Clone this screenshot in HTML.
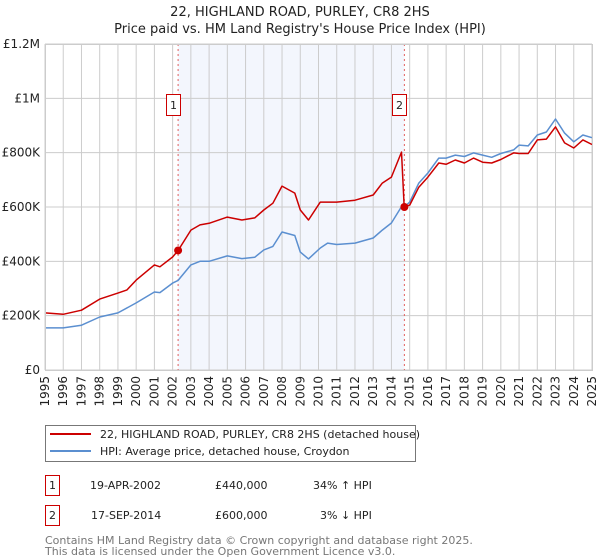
<!DOCTYPE html>
<html><head><meta charset="utf-8"><style>
body{margin:0;background:#fff;width:600px;height:560px;overflow:hidden;font-family:"DejaVu Sans","Liberation Sans",sans-serif}
svg{display:block}
</style></head><body>
<svg id="chart" width="600" height="560" xmlns="http://www.w3.org/2000/svg" font-family="DejaVu Sans, Liberation Sans, sans-serif">
<text x="300" y="16" font-size="13" text-anchor="middle" fill="#222">22, HIGHLAND ROAD, PURLEY, CR8 2HS</text>
<text x="300" y="33" font-size="13" text-anchor="middle" fill="#222">Price paid vs. HM Land Registry's House Price Index (HPI)</text>
<g id="plot"></g>
<g>
<rect x="45.5" y="425.5" width="370" height="36" fill="#fff" stroke="#777"/>
<line x1="50" y1="434" x2="91" y2="434" stroke="#cc0000" stroke-width="2"/>
<text x="100" y="438" font-size="11" fill="#222">22, HIGHLAND ROAD, PURLEY, CR8 2HS (detached house)</text>
<line x1="50" y1="451" x2="91" y2="451" stroke="#5b8fd0" stroke-width="2"/>
<text x="100" y="455" font-size="11" fill="#222">HPI: Average price, detached house, Croydon</text>
</g>
<g font-size="11" fill="#222">
<rect x="45.5" y="475.5" width="14" height="20" fill="#fff" stroke="#cc0000"/>
<text x="52.5" y="489" text-anchor="middle">1</text>
<text x="90" y="489">19-APR-2002</text>
<text x="215" y="489">£440,000</text>
<text x="313" y="489">34% ↑ HPI</text>
<rect x="45.5" y="505.5" width="14" height="20" fill="#fff" stroke="#cc0000"/>
<text x="52.5" y="519" text-anchor="middle">2</text>
<text x="91" y="519">17-SEP-2014</text>
<text x="215" y="519">£600,000</text>
<text x="320" y="519">3% ↓ HPI</text>
</g>
<g font-size="11" fill="#777">
<text x="45" y="544">Contains HM Land Registry data © Crown copyright and database right 2025.</text>
<text x="45" y="555">This data is licensed under the Open Government Licence v3.0.</text>
</g>
</svg>
<script>
const hpiYears=[1995,1996,1997,1998,1999,2000,2001,2001.3,2002,2002.3,2003,2003.5,2004,2005,2005.8,2006.5,2007,2007.5,2008,2008.7,2009,2009.45,2010.1,2010.5,2011,2012,2013,2013.5,2014,2014.5,2014.7,2015,2015.5,2016,2016.6,2017,2017.5,2018,2018.5,2019,2019.5,2020,2020.7,2021,2021.5,2022,2022.5,2023,2023.5,2024,2024.5,2025];
const hpiValues=[155,155,165,195,210,247,287,285,320,330,387,400,400,420,410,415,442,455,508,495,434,409,449,467,462,467,486,515,541,596,600,618,688,725,780,780,791,786,799,791,783,797,810,828,825,865,876,924,872,840,865,855];
const priceYears=[1995,1996,1997,1998,1999,1999.5,2000,2001,2001.3,2002,2002.3,2003,2003.5,2004,2005,2005.8,2006.5,2007,2007.5,2008,2008.7,2009,2009.45,2010.1,2011,2012,2013,2013.5,2014,2014.55,2014.7,2015,2015.5,2016,2016.6,2017,2017.5,2018,2018.5,2019,2019.5,2020,2020.7,2021,2021.5,2022,2022.5,2023,2023.5,2024,2024.5,2025];
const priceValues=[210,205,220,261,283,295,331,387,380,416,440,515,534,540,563,552,560,589,614,677,651,589,552,618,618,625,644,688,710,802,600,607,673,710,762,757,773,762,780,765,762,775,799,797,797,847,850,895,836,817,847,830];
const saleYears=[2002.3,2014.71];
const saleValues=[440,600];
const saleLabels=["1","2"];
const yTicks=[0,200,400,600,800,1000,1200];
const yTickLabels=["£0","£200K","£400K","£600K","£800K","£1M","£1.2M"];
const xTicks=[1995,1996,1997,1998,1999,2000,2001,2002,2003,2004,2005,2006,2007,2008,2009,2010,2011,2012,2013,2014,2015,2016,2017,2018,2019,2020,2021,2022,2023,2024,2025];

const X0=45,X1=592,Y0=370,Y1=44;
const xs=v=>X0+(v-1995)/30*(X1-X0);
const ys=v=>Y0-v/1200*(Y0-Y1);
const NS="http://www.w3.org/2000/svg";
const g=document.getElementById('plot');
function mk(t,a){const e=document.createElementNS(NS,t);for(const k in a)e.setAttribute(k,a[k]);g.appendChild(e);return e;}

let e=mk('rect',{x:xs(saleYears[0]),y:Y1,width:xs(saleYears[1])-xs(saleYears[0]),height:Y0-Y1,fill:'#eef2fc',opacity:0.7});


xTicks.forEach(t=>{
 const l=mk('line',{x1:xs(t),x2:xs(t),y1:Y1,y2:Y0,stroke:'#cccccc','stroke-width':1});
 
 
 const tx=mk('text',{x:0,y:0,'font-size':12,fill:'#222','text-anchor':'end',transform:`translate(${xs(t)+4},${Y0+6}) rotate(-90)`});
 tx.textContent=t;
 
 
});
yTicks.forEach((t,i)=>{
 const l=mk('line',{x1:X0,x2:X1,y1:ys(t),y2:ys(t),stroke:'#cccccc','stroke-width':1});
 
 
 const tx=mk('text',{x:X0-5,y:ys(t)+4,'font-size':12,fill:'#222','text-anchor':'end'});
 tx.textContent=yTickLabels[i];
 
 
});
saleYears.forEach((s,i)=>{
 const l=mk('line',{x1:xs(s),x2:xs(s),y1:Y1,y2:Y0,stroke:'#e06060','stroke-width':1,'stroke-dasharray':'2,3'});
 
 
});
function path(xa,va,col,name){
 const d=xa.map((x,i)=>(i?'L':'M')+xs(x).toFixed(1)+','+ys(va[i]).toFixed(1)).join('');
 const p=mk('path',{d:d,fill:'none',stroke:col,'stroke-width':1.5,'stroke-linejoin':'round'});
 
 
}
path(hpiYears,hpiValues,'#5b8fd0','hpi-line');
path(priceYears,priceValues,'#cc0000','price-line');
saleYears.forEach((s,i)=>{
 const c=mk('circle',{cx:xs(s),cy:ys(saleValues[i]),r:4,fill:'#cc0000'});
 
 
 const r=mk('rect',{x:Math.round(xs(s))-11.5,y:94.5,width:14,height:21,fill:'#fff',stroke:'#cc0000'});
 
 
 const t=mk('text',{x:Math.round(xs(s))-4.5,y:109,'font-size':11,fill:'#222','text-anchor':'middle'});
 t.textContent=saleLabels[i];
 
 
});
const b=mk('rect',{x:X0+0.5,y:Y1+0.5,width:X1-X0,height:Y0-Y1,fill:'none',stroke:'#cccccc'});


</script>
</body></html>
